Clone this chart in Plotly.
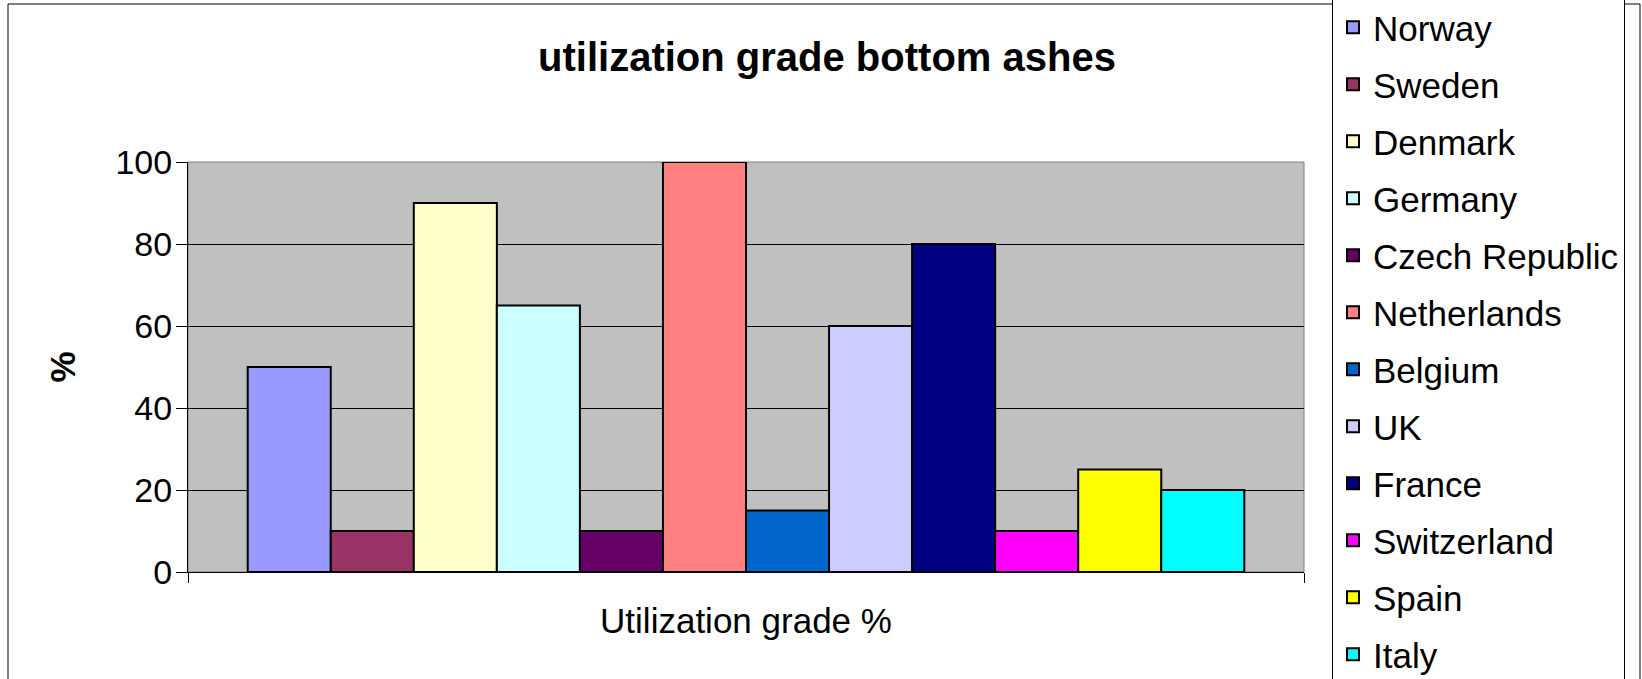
import plotly.graph_objects as go

countries = ["Norway", "Sweden", "Denmark", "Germany", "Czech Republic", "Netherlands",
             "Belgium", "UK", "France", "Switzerland", "Spain", "Italy"]
values = [50, 10, 90, 65, 10, 100, 15, 60, 80, 10, 25, 20]
colors = ["#9999FF", "#993366", "#FFFFCC", "#CCFFFF", "#660066", "#FF8080",
          "#0066CC", "#CCCCFF", "#000080", "#FF00FF", "#FFFF00", "#00FFFF"]
category = ["Utilization grade %"]
y_ticks = [0, 20, 40, 60, 80, 100]

FONT = "Liberation Sans, Arial, sans-serif"

fig = go.Figure()
for name, val, col in zip(countries, values, colors):
    fig.add_trace(go.Bar(
        x=category, y=[val], name=name, legendgroup=name,
        marker=dict(color=col, line=dict(color="black", width=2)),
    ))

W, H = 1642, 679
L, R, T, B = 188, 338, 162, 107
pw, ph = W - L - R, H - T - B

def px_x(x):
    return (x - L) / pw

def px_y(y):
    return 1 - (y - T) / ph

fig.update_layout(
    width=W, height=H,
    margin=dict(l=L, r=R, t=T, b=B, autoexpand=False),
    paper_bgcolor="white",
    plot_bgcolor="#C0C0C0",
    barmode="group", bargap=0.107, bargroupgap=0,
    font=dict(family=FONT, color="black", size=33),
    title=dict(text="<b>utilization grade bottom ashes</b>",
               font=dict(family=FONT, size=40),
               x=827 / W, xref="container", xanchor="center",
               y=1 - 57 / H, yref="container", yanchor="middle"),
    legend=dict(x=px_x(1332), xanchor="left", y=px_y(-3), yanchor="top",
                bgcolor="white", bordercolor="black", borderwidth=1,
                font=dict(size=35), tracegroupgap=8.5, maxheight=1000),
    showlegend=True,
)
fig.update_xaxes(
    type="category", tickson="boundaries", ticks="outside", ticklen=10,
    tickcolor="black", showline=True, linecolor="black", linewidth=1,
    mirror=False, showgrid=False, tickfont=dict(size=35), ticklabelstandoff=18,
)
fig.update_yaxes(
    range=[0, 100], tickvals=y_ticks, ticks="outside", ticklen=11, tickcolor="black",
    showline=True, linecolor="black", linewidth=1, showgrid=True, gridcolor="black",
    gridwidth=1, zeroline=False, tickfont=dict(size=34), ticklabelstandoff=-3,
    title=dict(text="<b>%</b>", font=dict(size=35), standoff=29),
)
# plot area border (top/right) and outer chart border
fig.add_shape(type="rect", xref="paper", yref="paper", x0=0, x1=1, y0=0, y1=1,
              line=dict(color="#808080", width=1), layer="below")
fig.add_shape(type="rect", xref="paper", yref="paper",
              x0=px_x(8), x1=px_x(1640), y0=px_y(720), y1=px_y(4),
              line=dict(color="black", width=1), layer="below")

fig.write_html("out.html", config={"displayModeBar": False},
               post_script="document.body.style.margin='0px';")
